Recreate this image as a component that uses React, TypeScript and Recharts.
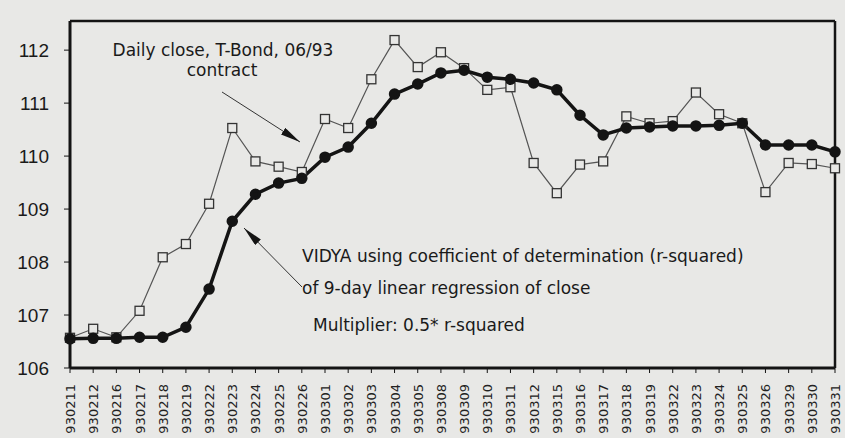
import React from 'react';
import {
  LineChart,
  Line,
  XAxis,
  YAxis,
  ReferenceLine,
} from 'recharts';

// trading days, Feb-Mar 1993
const dates = [
  '930211', '930212', '930216', '930217', '930218', '930219', '930222',
  '930223', '930224', '930225', '930226', '930301', '930302', '930303',
  '930304', '930305', '930308', '930309', '930310', '930311', '930312',
  '930315', '930316', '930317', '930318', '930319', '930322', '930323',
  '930324', '930325', '930326', '930329', '930330', '930331',
];

// daily close, T-Bond 06/93 contract
const closeValues = [
  106.57, 106.74, 106.58, 107.08, 108.09, 108.34, 109.1,
  110.53, 109.9, 109.8, 109.7, 110.7, 110.53, 111.45,
  112.19, 111.68, 111.96, 111.66, 111.25, 111.3, 109.87,
  109.3, 109.84, 109.9, 110.75, 110.62, 110.66, 111.2,
  110.79, 110.62, 109.32, 109.87, 109.85, 109.77,
];

// VIDYA (r-squared of 9-day regression)
const vidyaValues = [
  106.55, 106.56, 106.56, 106.58, 106.58, 106.77, 107.49,
  108.77, 109.28, 109.49, 109.58, 109.98, 110.17, 110.62,
  111.17, 111.36, 111.57, 111.62, 111.49, 111.45, 111.38,
  111.25, 110.77, 110.4, 110.53, 110.55, 110.57, 110.57,
  110.58, 110.62, 110.21, 110.21, 110.21, 110.08,
];

const yTicks = [106, 107, 108, 109, 110, 111, 112];

const data = dates.map((d, i) => ({
  date: d,
  close: closeValues[i],
  vidya: vidyaValues[i],
}));

const PAPER = '#e8e8e6';
const INK = '#141414';
const FONT = '"Liberation Sans", Arial, sans-serif';
const WIDE = '"DejaVu Sans", sans-serif';

function SquareDot(props: { cx?: number; cy?: number }) {
  const { cx, cy } = props;
  if (cx == null || cy == null) return null;
  return (
    <rect
      x={cx - 4.5}
      y={cy - 4.5}
      width={9}
      height={9}
      fill={PAPER}
      stroke="#333"
      strokeWidth={1.3}
    />
  );
}

function DateTick(props: { x?: number; y?: number; payload?: { value: string } }) {
  const { x = 0, y = 0, payload } = props;
  const tx = x + 5;
  const ty = y + 9;
  return (
    <text
      x={tx}
      y={ty}
      transform={`rotate(-90 ${tx} ${ty})`}
      textAnchor="end"
      fontSize={13}
      fontFamily={WIDE}
      fill="#222"
    >
      {payload?.value}
    </text>
  );
}

export default function App() {
  return (
    <div
      style={{
        position: 'absolute',
        left: 0,
        top: 0,
        width: 845,
        height: 438,
        background: PAPER,
        overflow: 'hidden',
      }}
    >
      <LineChart
        width={845}
        height={438}
        data={data}
        margin={{ top: 21, right: 10, bottom: 0, left: 0 }}
      >
        <XAxis
          dataKey="date"
          interval={0}
          height={70}
          tick={<DateTick />}
          tickSize={5}
          axisLine={{ stroke: INK, strokeWidth: 3 }}
          tickLine={{ stroke: INK }}
        />
        <YAxis
          width={70}
          domain={[106, 112.55]}
          ticks={yTicks}
          allowDataOverflow
          tickSize={6}
          tickMargin={15}
          tick={{ fontSize: 19, fontFamily: FONT, fill: '#1a1a1a' }}
          axisLine={{ stroke: INK, strokeWidth: 3 }}
          tickLine={{ stroke: INK }}
        />
        <ReferenceLine y={112.55} stroke={INK} strokeWidth={2.5} />
        <ReferenceLine x="930331" stroke={INK} strokeWidth={2.5} />
        <Line
          dataKey="close"
          stroke="#555"
          strokeWidth={1.2}
          dot={<SquareDot />}
          isAnimationActive={false}
        />
        <Line
          dataKey="vidya"
          stroke={INK}
          strokeWidth={3.5}
          dot={{ r: 4, fill: INK, stroke: INK }}
          isAnimationActive={false}
        />
      </LineChart>

      {/* annotations */}
      <svg
        width={845}
        height={438}
        style={{ position: 'absolute', left: 0, top: 0, pointerEvents: 'none' }}
        fontFamily={WIDE}
        fontSize={17}
        fill="#1a1a1a"
      >
        <defs>
          <marker
            id="head"
            viewBox="0 0 20 8"
            refX={20}
            refY={4}
            markerWidth={20}
            markerHeight={8}
            markerUnits="userSpaceOnUse"
            orient="auto"
          >
            <path d="M0,0 L20,4 L0,8 Z" fill={INK} />
          </marker>
        </defs>
        <text x={223} y={56} textAnchor="middle">Daily close, T-Bond, 06/93</text>
        <text x={222} y={76} textAnchor="middle">contract</text>
        <line x1={222} y1={92} x2={300} y2={142} stroke="#333" strokeWidth={1} markerEnd="url(#head)" />
        <text x={302} y={262}>VIDYA using coefficient of determination (r-squared)</text>
        <text x={302} y={294}>of 9-day linear regression of close</text>
        <text x={313} y={331}>Multiplier: 0.5* r-squared</text>
        <line x1={302} y1={287} x2={244} y2={228} stroke="#333" strokeWidth={1} markerEnd="url(#head)" />
      </svg>
    </div>
  );
}
